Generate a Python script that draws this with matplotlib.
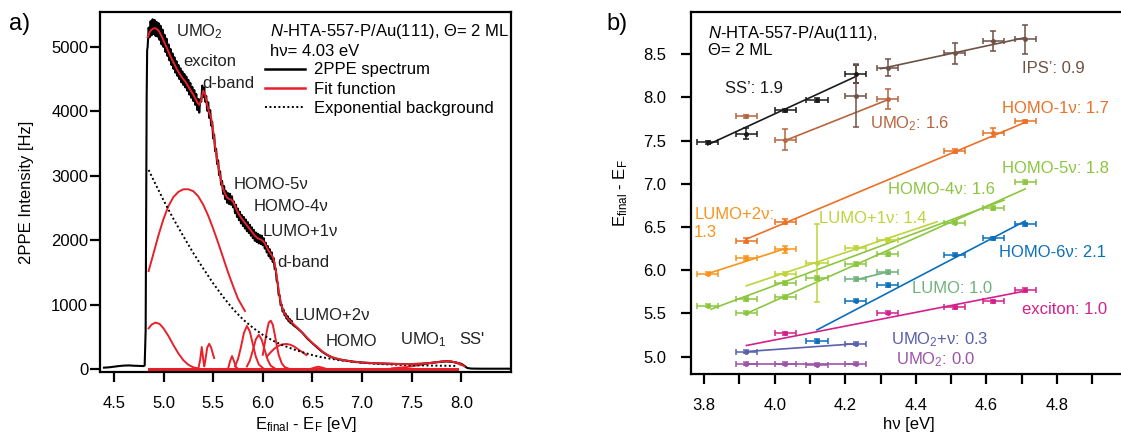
import numpy as np
import matplotlib
matplotlib.use("Agg")
import matplotlib.pyplot as plt
from matplotlib.lines import Line2D

plt.rcParams['font.family'] = ['Liberation Sans', 'DejaVu Sans']
plt.rcParams['mathtext.fontset'] = 'custom'
plt.rcParams['mathtext.rm'] = 'Liberation Sans'
plt.rcParams['mathtext.it'] = 'Liberation Sans:italic'
plt.rcParams['font.size'] = 12

# ---------------- panel a) data ----------------
# 2PPE spectrum (black)
spec_pre_e = [4.40, 4.45, 4.50, 4.55, 4.60, 4.65, 4.70, 4.75, 4.80, 4.81, 4.82, 4.825, 4.83, 4.835]
spec_pre_i = [20, 25, 35, 45, 52, 55, 50, 48, 45, 55, 600, 2500, 4200, 4950]
# dense part, 0.01 eV steps from 4.84 to 6.30
spec_mid_start, spec_mid_step = 4.84, 0.01
spec_mid_i = [5000, 5300, 5150, 5400, 5180, 5430, 5200, 5420, 5170, 5390,
              5160, 5370, 5110, 5330, 5040, 5270, 5000, 5190, 4920, 5130,
              4860, 5040, 4790, 4970, 4720, 4900, 4660, 4840, 4600, 4780,
              4550, 4720, 4500, 4670, 4450, 4620, 4410, 4580, 4370, 4540,
              4320, 4490, 4260, 4440, 4210, 4380, 4160, 4330, 4100, 4270,
              4020, 4190, 3980, 4190, 4150, 4400, 4220, 4370, 4150, 4240,
              4010, 4140, 3900, 4020, 3780, 3840, 3580, 3640, 3380, 3420,
              3180, 3240, 3010, 3070, 2860, 2920, 2720, 2840, 2640, 2760,
              2580, 2730, 2560, 2720, 2550, 2680, 2510, 2600, 2420, 2550,
              2360, 2490, 2310, 2440, 2260, 2390, 2220, 2360, 2180, 2320,
              2140, 2280, 2110, 2240, 2070, 2200, 2030, 2160, 1990, 2120,
              1970, 2100, 1950, 2080, 1940, 2070, 1920, 2030, 1870, 1960,
              1810, 1910, 1750, 1860, 1710, 1810, 1660, 1720, 1550, 1560,
              1370, 1340, 1150, 1140, 990, 1000, 890, 920, 830, 860,
              780, 820, 740, 780, 710, 750, 690]
spec_post_e = [6.35, 6.40, 6.45, 6.50, 6.55, 6.60, 6.65, 6.70, 6.75, 6.80, 6.90, 7.00,
               7.10, 7.20, 7.30, 7.40, 7.50, 7.60, 7.70, 7.80, 7.85, 7.90, 7.95, 8.00,
               8.03, 8.06, 8.10, 8.20, 8.30, 8.50]
spec_post_i = [630, 560, 470, 400, 330, 265, 215, 180, 155, 140, 115, 100,
               90, 85, 80, 75, 75, 82, 95, 112, 118, 112, 100, 80,
               50, 15, 6, 4, 4, 4]

# total fit function (red)
fit_e = [4.84, 4.86, 4.88, 4.90, 4.92, 4.94, 4.96, 4.98, 5.00, 5.02, 5.04, 5.06, 5.08,
         5.10, 5.12, 5.14, 5.16, 5.18, 5.20, 5.22, 5.24, 5.26, 5.28, 5.30, 5.32, 5.34,
         5.36, 5.38, 5.40, 5.42, 5.44, 5.46, 5.48, 5.50, 5.52, 5.54, 5.56, 5.58, 5.60,
         5.62, 5.64, 5.66, 5.68, 5.70, 5.72, 5.74, 5.76, 5.78, 5.80, 5.82, 5.84, 5.86,
         5.88, 5.90, 5.92, 5.94, 5.96, 5.98, 6.00, 6.02, 6.04, 6.06, 6.08, 6.10, 6.12,
         6.14, 6.16, 6.18, 6.20, 6.22, 6.24, 6.26, 6.28, 6.30, 6.35, 6.40, 6.45, 6.50,
         6.55, 6.60, 6.65, 6.70, 6.80, 6.90, 7.00, 7.20, 7.40, 7.60, 7.70, 7.80, 7.85,
         7.90, 7.95, 8.00, 8.03]
fit_i = [5150, 5230, 5270, 5290, 5290, 5270, 5230, 5170, 5100, 5030, 4960, 4890, 4820,
         4760, 4700, 4640, 4590, 4540, 4500, 4460, 4410, 4360, 4310, 4260, 4200, 4140,
         4100, 4180, 4320, 4260, 4100, 3980, 3900, 3700, 3450, 3250, 3080, 2920, 2800,
         2720, 2660, 2640, 2630, 2600, 2530, 2460, 2400, 2350, 2310, 2270, 2230, 2190,
         2150, 2110, 2070, 2040, 2020, 2010, 1990, 1950, 1890, 1830, 1790, 1740, 1640,
         1450, 1220, 1040, 930, 860, 810, 770, 740, 710, 640, 560, 480, 400,
         340, 270, 220, 180, 140, 115, 100, 85, 75, 80, 95, 115, 120,
         115, 100, 70, 40]

# exponential background (dotted)
bg_e = [4.85, 4.90, 5.00, 5.10, 5.20, 5.30, 5.40, 5.50, 5.60, 5.70, 5.80, 5.90, 6.00,
        6.10, 6.20, 6.30, 6.40, 6.50, 6.60, 6.80, 7.00, 7.20, 7.40, 7.60, 7.80, 7.96]
bg_i = [3090, 2930, 2620, 2330, 2060, 1800, 1560, 1330, 1120, 930, 770, 640, 530,
        440, 370, 310, 260, 215, 180, 130, 95, 75, 62, 55, 50, 48]

# single fit components (red)
comp_broad_e = [4.85, 4.90, 4.95, 5.00, 5.05, 5.10, 5.15, 5.20, 5.25, 5.30, 5.35, 5.40,
                5.45, 5.50, 5.55, 5.60, 5.65, 5.70, 5.75, 5.82]
comp_broad_i = [1520, 1800, 2080, 2330, 2530, 2670, 2750, 2790, 2790, 2760, 2680, 2550,
                2380, 2180, 1960, 1730, 1500, 1290, 1090, 900]
comp_umo_e = [4.85, 4.88, 4.92, 4.96, 5.00, 5.05, 5.10, 5.15, 5.20, 5.25, 5.30, 5.35]
comp_umo_i = [630, 690, 720, 700, 630, 510, 370, 240, 135, 65, 25, 8]
comp_dband_e = [5.35, 5.37, 5.385, 5.40, 5.41, 5.42, 5.44, 5.46, 5.48, 5.50, 5.51]
comp_dband_i = [0, 150, 340, 150, 40, 120, 330, 390, 330, 220, 170]
comp_h5_e = [5.65, 5.67, 5.69, 5.71, 5.73, 5.75]
comp_h5_i = [0, 120, 200, 120, 30, 0]
comp_h4_e = [5.72, 5.75, 5.78, 5.81, 5.84, 5.87, 5.90, 5.93, 5.96, 6.00]
comp_h4_i = [40, 150, 340, 560, 668, 580, 380, 190, 70, 15]
comp_l1_e = [5.84, 5.87, 5.90, 5.93, 5.96, 5.99, 6.02, 6.05, 6.08, 6.12]
comp_l1_i = [40, 130, 290, 460, 530, 450, 290, 140, 50, 10]
comp_db2_e = [6.00, 6.02, 6.04, 6.06, 6.08, 6.10, 6.12, 6.14, 6.16, 6.19, 6.22, 6.26]
comp_db2_i = [220, 400, 580, 720, 750, 690, 540, 370, 220, 90, 30, 5]
comp_l2_e = [6.04, 6.08, 6.12, 6.16, 6.20, 6.24, 6.28, 6.32, 6.36, 6.40, 6.44]
comp_l2_i = [190, 260, 320, 360, 382, 388, 375, 345, 300, 260, 215]
comp_homo_e = [6.48, 6.52, 6.56, 6.60, 6.64]
comp_homo_i = [0, 20, 35, 20, 0]
comp_umo1_e = [7.30, 7.45, 7.60, 7.70, 7.80, 7.85, 7.90, 7.95, 8.00]
comp_umo1_i = [10, 30, 65, 95, 115, 120, 115, 95, 60]
comp_base_e = [4.85, 7.96]
comp_base_i = [5, 5]

peak_labels = ['UMO$_2$', 'exciton', 'd-band', 'HOMO-5ν', 'HOMO-4ν', 'LUMO+1ν',
               'd-band', 'LUMO+2ν', 'HOMO', 'UMO$_1$', "SS'"]
peak_label_e = [5.13, 5.20, 5.39, 5.71, 5.91, 6.00, 6.15, 6.32, 6.63, 7.38, 7.98]
peak_label_i = [5230, 4770, 4440, 2860, 2520, 2130, 1660, 830, 420, 450, 450]

# ---------------- panel b) data ----------------
series = ["SS'", "IPS'", "UMO2", "HOMO-1", "LUMO+2", "HOMO-5", "HOMO-4", "LUMO+1",
          "LUMO", "HOMO-6", "exciton", "UMO2+v", "UMO2_0"]
colors = {"SS'": '#1a1a1a', "IPS'": '#6e5246', "UMO2": '#b5653f', "HOMO-1": '#ea7127',
          "LUMO+2": '#f7941d', "HOMO-5": '#8cc63e', "HOMO-4": '#8cc63e',
          "LUMO+1": '#bdd43a', "LUMO": '#6fb27c', "HOMO-6": '#0b6fba',
          "exciton": '#d4208a', "UMO2+v": '#5a5fae', "UMO2_0": '#9b55a6'}
hv = {"SS'": [3.81, 3.92, 4.03, 4.12, 4.23],
      "IPS'": [4.23, 4.32, 4.51, 4.62, 4.71],
      "UMO2": [3.92, 4.03, 4.32],
      "HOMO-1": [3.92, 4.03, 4.51, 4.62, 4.71],
      "LUMO+2": [3.81, 3.92, 4.03],
      "HOMO-5": [3.92, 4.03, 4.12, 4.23, 4.32, 4.71],
      "HOMO-4": [3.81, 3.92, 4.03, 4.51, 4.62],
      "LUMO+1": [4.03, 4.12, 4.23, 4.32],
      "LUMO": [4.23, 4.32],
      "HOMO-6": [4.12, 4.23, 4.32, 4.51, 4.62, 4.71],
      "exciton": [4.03, 4.32, 4.51, 4.62, 4.71],
      "UMO2+v": [3.92, 4.23],
      "UMO2_0": [3.92, 4.03, 4.12, 4.23]}
efin = {"SS'": [7.48, 7.58, 7.85, 7.97, 8.27],
        "IPS'": [8.02, 8.34, 8.51, 8.65, 8.67],
        "UMO2": [7.78, 7.51, 7.98],
        "HOMO-1": [6.34, 6.56, 7.38, 7.59, 7.72],
        "LUMO+2": [5.96, 6.14, 6.24],
        "HOMO-5": [5.51, 5.69, 5.91, 6.07, 6.19, 7.02],
        "HOMO-4": [5.59, 5.67, 5.85, 6.55, 6.72],
        "LUMO+1": [5.96, 6.08, 6.26, 6.35],
        "LUMO": [5.90, 5.98],
        "HOMO-6": [5.18, 5.65, 5.83, 6.18, 6.37, 6.53],
        "exciton": [5.27, 5.51, 5.57, 5.64, 5.77],
        "UMO2+v": [5.06, 5.15],
        "UMO2_0": [4.92, 4.92, 4.91, 4.92]}
eerr = {"SS'": [0.02, 0.06, 0.02, 0.02, 0.10],
        "IPS'": [0.36, 0.10, 0.12, 0.12, 0.17],
        "UMO2": [0.02, 0.12, 0.12],
        "HOMO-1": [0.03, 0.03, 0.02, 0.05, 0.02],
        "LUMO+2": [0.02, 0.02, 0.04],
        "HOMO-5": [0.02, 0.02, 0.02, 0.02, 0.02, 0.02],
        "HOMO-4": [0.02, 0.02, 0.02, 0.02, 0.02],
        "LUMO+1": [0.02, 0.45, 0.02, 0.02],
        "LUMO": [0.02, 0.02],
        "HOMO-6": [0.02, 0.02, 0.02, 0.02, 0.02, 0.02],
        "exciton": [0.02, 0.02, 0.02, 0.02, 0.02],
        "UMO2+v": [0.02, 0.02],
        "UMO2_0": [0.02, 0.02, 0.02, 0.02]}
hv_err = 0.03
# linear fits, start/end points
fit_x = {"SS'": [3.81, 4.23], "IPS'": [4.30, 4.71], "UMO2": [4.03, 4.32],
         "HOMO-1": [3.92, 4.71], "LUMO+2": [3.81, 4.03], "HOMO-5": [3.92, 4.71],
         "HOMO-4": [3.82, 4.65], "LUMO+1": [3.92, 4.46], "LUMO": [4.23, 4.32],
         "HOMO-6": [4.12, 4.71], "exciton": [3.92, 4.71], "UMO2+v": [3.92, 4.23],
         "UMO2_0": [3.92, 4.23]}
fit_y = {"SS'": [7.45, 8.24], "IPS'": [8.33, 8.69], "UMO2": [7.50, 7.97],
         "HOMO-1": [6.36, 7.71], "LUMO+2": [5.96, 6.25], "HOMO-5": [5.50, 6.94],
         "HOMO-4": [5.55, 6.81], "LUMO+1": [5.82, 6.56], "LUMO": [5.89, 5.98],
         "HOMO-6": [5.31, 6.57], "exciton": [5.13, 5.76], "UMO2+v": [5.06, 5.15],
         "UMO2_0": [4.915, 4.915]}
series_labels = {"SS'": "SS’: 1.9", "IPS'": "IPS’: 0.9", "UMO2": "UMO$_2$: 1.6",
                 "HOMO-1": "HOMO-1ν: 1.7", "LUMO+2": "LUMO+2ν:\n1.3",
                 "HOMO-5": "HOMO-5ν: 1.8", "HOMO-4": "HOMO-4ν: 1.6",
                 "LUMO+1": "LUMO+1ν: 1.4", "LUMO": "LUMO: 1.0",
                 "HOMO-6": "HOMO-6ν: 2.1", "exciton": "exciton: 1.0",
                 "UMO2+v": "UMO$_2$+ν: 0.3", "UMO2_0": "UMO$_2$: 0.0"}
label_x = {"SS'": 3.86, "IPS'": 4.70, "UMO2": 4.27, "HOMO-1": 4.645, "LUMO+2": 3.772,
           "HOMO-5": 4.645, "HOMO-4": 4.32, "LUMO+1": 4.125, "LUMO": 4.39,
           "HOMO-6": 4.635, "exciton": 4.70, "UMO2+v": 4.33, "UMO2_0": 4.345}
label_y = {"SS'": 8.10, "IPS'": 8.33, "UMO2": 7.70, "HOMO-1": 7.87, "LUMO+2": 6.54,
           "HOMO-5": 7.18, "HOMO-4": 6.93, "LUMO+1": 6.60, "LUMO": 5.79,
           "HOMO-6": 6.20, "exciton": 5.55, "UMO2+v": 5.20, "UMO2_0": 4.965}

red = '#e8202a'

fig = plt.figure(figsize=(11.21, 4.34), dpi=100)
axa = fig.add_axes([0.0892, 0.1429, 0.3666, 0.8295])
axb = fig.add_axes([0.6164, 0.1382, 0.3895, 0.834])

# ---- panel a
spec_mid_e = np.round(spec_mid_start + spec_mid_step * np.arange(len(spec_mid_i)), 3)
spec_e = list(spec_pre_e) + list(spec_mid_e) + spec_post_e
spec_i = spec_pre_i + spec_mid_i + spec_post_i

axa.plot(spec_e, spec_i, color='black', lw=1.5, zorder=3)
for ce, ci in [(comp_broad_e, comp_broad_i), (comp_umo_e, comp_umo_i),
               (comp_dband_e, comp_dband_i), (comp_h5_e, comp_h5_i),
               (comp_h4_e, comp_h4_i), (comp_l1_e, comp_l1_i),
               (comp_db2_e, comp_db2_i), (comp_l2_e, comp_l2_i),
               (comp_homo_e, comp_homo_i), (comp_umo1_e, comp_umo1_i)]:
    axa.plot(ce, ci, color=red, lw=1.4, zorder=2)
axa.plot(comp_base_e, comp_base_i, color=red, lw=2.2, zorder=2)
axa.plot(bg_e, bg_i, color='black', lw=1.4, ls=(0, (1, 1.3)), zorder=2)
axa.plot(fit_e, fit_i, color=red, lw=1.4, zorder=4)

for t, x, y in zip(peak_labels, peak_label_e, peak_label_i):
    axa.text(x, y, t, fontsize=12, va='center', ha='left', color='#222222')

axa.text(6.07, 5240, r'$\it{N}$-HTA-557-P/Au(111), Θ= 2 ML', fontsize=12, va='center')
axa.text(6.07, 4930, 'hν= 4.03 eV', fontsize=12, va='center')
handles = [Line2D([], [], color='black', lw=1.8),
           Line2D([], [], color=red, lw=1.8),
           Line2D([], [], color='black', lw=1.4, ls=(0, (1, 1.3)))]
axa.legend(handles, ['2PPE spectrum', 'Fit function', 'Exponential background'],
           loc='upper left', bbox_to_anchor=(0.402, 0.86), frameon=False,
           handlelength=2.4, handletextpad=0.5, labelspacing=0.25, borderpad=0,
           borderaxespad=0, fontsize=12)

axa.set_xlim(4.36, 8.50)
axa.set_ylim(-47, 5543)
axa.set_xticks([4.5, 5.0, 5.5, 6.0, 6.5, 7.0, 7.5, 8.0])
axa.set_xticklabels(['4.5', '5.0', '5.5', '6.0', '6.5', '7.0', '7.5', '8.0'])
axa.set_yticks([0, 1000, 2000, 3000, 4000, 5000])
axa.set_xlabel(r'E$_{\mathrm{final}}$ - E$_{\mathrm{F}}$ [eV]', fontsize=12, labelpad=3)
axa.set_ylabel('2PPE Intensity [Hz]', fontsize=12, labelpad=12)
axa.tick_params(axis='y', pad=1.5)

# ---- panel b
for s in series:
    c = colors[s]
    axb.errorbar(hv[s], efin[s], xerr=hv_err, yerr=eerr[s], fmt='.', color=c,
                 ms=5, elinewidth=1.1, capsize=2.5, capthick=1.1, zorder=3)
    axb.plot(fit_x[s], fit_y[s], color=c, lw=1.2, zorder=2)
    axb.text(label_x[s], label_y[s], series_labels[s], color=c, fontsize=12,
             va='center', ha='left', linespacing=1.3)

axb.text(3.812, 8.74, r'$\it{N}$-HTA-557-P/Au(111),', fontsize=12, va='center')
axb.text(3.812, 8.545, 'Θ= 2 ML', fontsize=12, va='center')

axb.set_xlim(3.763, 5.0)
axb.set_ylim(4.80, 8.985)
axb.set_xticks([3.8, 4.0, 4.2, 4.4, 4.6, 4.8])
axb.set_xticklabels(['3.8', '4.0', '4.2', '4.4', '4.6', '4.8'])
axb.set_xticks([3.9, 4.1, 4.3, 4.5, 4.7, 4.9], minor=True)
axb.set_yticks([5.0, 5.5, 6.0, 6.5, 7.0, 7.5, 8.0, 8.5])
axb.set_yticklabels(['5.0', '5.5', '6.0', '6.5', '7.0', '7.5', '8.0', '8.5'])
axb.set_xlabel('hν [eV]', fontsize=12, labelpad=3)
axb.set_ylabel(r'E$_{\mathrm{final}}$ - E$_{\mathrm{F}}$', fontsize=12, labelpad=9)
axb.tick_params(axis='y', which='both', pad=11)

for ax in (axa, axb):
    for sp in ax.spines.values():
        sp.set_linewidth(1.6)
    ax.tick_params(which='both', direction='out', length=7, width=1.6, labelsize=12)
    ax.tick_params(axis='x', which='both', pad=10)

fig.text(0.008, 0.945, 'a)', fontsize=17, va='center')
fig.text(0.541, 0.945, 'b)', fontsize=17, va='center')

fig.savefig('out.png', dpi=100)
